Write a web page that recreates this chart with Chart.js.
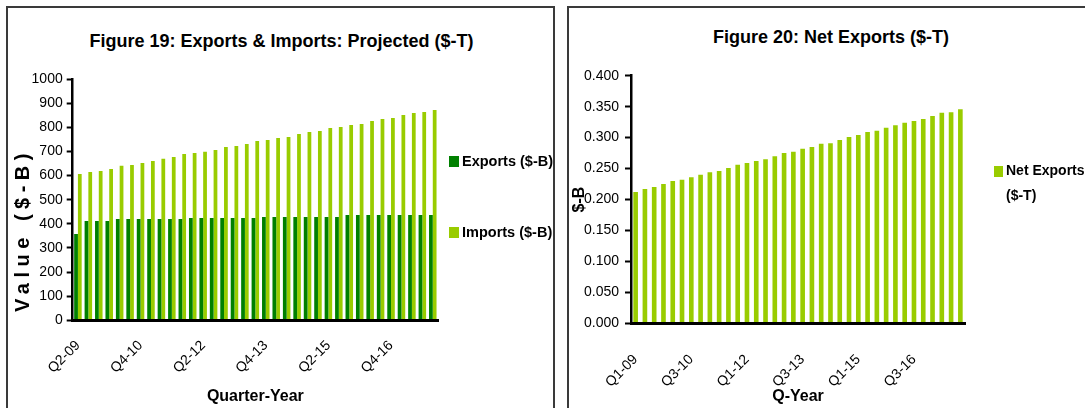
<!DOCTYPE html>
<html>
<head>
<meta charset="utf-8">
<title>Exports, Imports and Net Exports</title>
<script src="https://cdn.jsdelivr.net/npm/chart.js@4.4.1/dist/chart.umd.min.js"></script>
<style>
    html, body { margin: 0; padding: 0; background: #fff; }
    body { position: relative; width: 1085px; height: 408px; overflow: hidden; font-family: 'Liberation Sans', Arial, sans-serif; }
    .frame { position: absolute; top: 6px; height: 430px; border: 2px solid #3a3a3a; box-sizing: border-box; }
    .chartbox { position: absolute; top: 8px; }
    .fig-title { position: absolute; text-align: center; font-weight: bold; font-size: 18px; line-height: 22px; color: #000; white-space: nowrap; }
    .legend { position: absolute; font-weight: bold; color: #000; }
    .legend .item { display: flex; align-items: flex-start; }
    .legend .swatch { flex: none; }
</style>
</head>
<body>

<div class="frame" style="left:6px; width:549px;"></div>
<div class="frame" style="left:567px; width:540px;"></div>

<div class="fig-title" style="left:8px; width:547px; top:30px;">Figure 19: Exports &amp; Imports: Projected ($-T)</div>
<div class="fig-title" style="left:569px; width:524px; top:26px;">Figure 20: Net Exports ($-T)</div>

<div class="chartbox" style="left:8px;"><canvas id="chartTrade" width="545" height="400"></canvas></div>
<div class="chartbox" style="left:569px;"><canvas id="chartNet" width="524" height="400"></canvas></div>

<div id="legendTrade" class="legend" style="left:449px; top:150px; font-size:14.5px; line-height:22px;"></div>
<div id="legendNet" class="legend" style="left:994px; top:158px; font-size:14px; line-height:25px; width:100px;"></div>

<script>
// ---- Figure 19 data: exports & imports by quarter ($-B) ----
const tradeQuarters = [
    'Q2-09', 'Q3-09', 'Q4-09',
    'Q1-10', 'Q2-10', 'Q3-10', 'Q4-10',
    'Q1-11', 'Q2-11', 'Q3-11', 'Q4-11',
    'Q1-12', 'Q2-12', 'Q3-12', 'Q4-12',
    'Q1-13', 'Q2-13', 'Q3-13', 'Q4-13',
    'Q1-14', 'Q2-14', 'Q3-14', 'Q4-14',
    'Q1-15', 'Q2-15', 'Q3-15', 'Q4-15',
    'Q1-16', 'Q2-16', 'Q3-16', 'Q4-16',
    'Q1-17', 'Q2-17', 'Q3-17', 'Q4-17'
];
const exportsB = [
    358, 412, 412, 412, 420, 420, 420, 420, 420, 420, 420, 424,
    424, 424, 424, 424, 424, 424, 428, 428, 428, 428, 428, 428,
    428, 428, 436, 436, 436, 436, 436, 436, 436, 436, 436
];
const importsB = [
    606, 615, 619, 627, 640, 644, 652, 660, 669, 677, 689, 693,
    698, 706, 718, 722, 731, 743, 747, 756, 760, 772, 780, 785,
    797, 801, 809, 814, 826, 834, 838, 851, 859, 863, 872
];
const tradeTickLabels = ['Q2-09', 'Q4-10', 'Q2-12', 'Q4-13', 'Q2-15', 'Q4-16'];

// ---- Figure 20 data: net exports by quarter ($-T) ----
const netQuarters = [
    'Q1-09', 'Q2-09', 'Q3-09', 'Q4-09',
    'Q1-10', 'Q2-10', 'Q3-10', 'Q4-10',
    'Q1-11', 'Q2-11', 'Q3-11', 'Q4-11',
    'Q1-12', 'Q2-12', 'Q3-12', 'Q4-12',
    'Q1-13', 'Q2-13', 'Q3-13', 'Q4-13',
    'Q1-14', 'Q2-14', 'Q3-14', 'Q4-14',
    'Q1-15', 'Q2-15', 'Q3-15', 'Q4-15',
    'Q1-16', 'Q2-16', 'Q3-16', 'Q4-16',
    'Q1-17', 'Q2-17', 'Q3-17', 'Q4-17'
];
const netExportsT = [
    0.212, 0.217, 0.220, 0.225, 0.230, 0.232, 0.236, 0.240, 0.244,
    0.246, 0.251, 0.256, 0.259, 0.262, 0.265, 0.270, 0.275, 0.277,
    0.282, 0.285, 0.290, 0.291, 0.296, 0.301, 0.304, 0.309, 0.311,
    0.316, 0.320, 0.324, 0.327, 0.330, 0.335, 0.340, 0.341, 0.346
];
const netTickLabels = ['Q1-09', 'Q3-10', 'Q1-12', 'Q3-13', 'Q1-15', 'Q3-16'];

const DARK_GREEN = '#008000';
const LIME = '#99CC00';
const FONT = "'Liberation Sans', Arial, sans-serif";

Chart.defaults.font.family = FONT;
Chart.defaults.color = '#000';
Chart.defaults.animation = false;

// rotated, letter-spaced axis caption (Excel style)
const sideTitle = {
    id: 'sideTitle',
    afterDraw(chart, args, opts) {
        if (!opts || !opts.text) return;
        const ctx = chart.ctx;
        ctx.save();
        ctx.translate(opts.x, opts.y);
        ctx.rotate(-Math.PI / 2);
        ctx.font = `bold ${opts.size}px ${FONT}`;
        if ('letterSpacing' in ctx) ctx.letterSpacing = opts.spacing + 'px';
        ctx.fillStyle = '#000';
        ctx.textAlign = 'center';
        ctx.textBaseline = 'middle';
        ctx.fillText(opts.text, 0, 0);
        ctx.restore();
    }
};

function xAxis(showLabels, height, pad, titleText) {
    return {
        grid: { display: false },
        border: { display: true, color: '#000', width: 3, z: 1 },
        ticks: {
            autoSkip: false,
            minRotation: 45,
            maxRotation: 45,
            padding: pad,
            font: { size: 14 },
            callback: function (val) {
                const lbl = this.getLabelForValue(val);
                return showLabels.includes(lbl) ? lbl : '';
            }
        },
        title: { display: true, text: titleText, font: { size: 16, weight: 'bold' }, padding: { top: 0, bottom: 1.4 } },
        afterFit: (scale) => { scale.height = height; }
    };
}

// ---- Figure 19 ----
const tradeChart = new Chart(document.getElementById('chartTrade'), {
    type: 'bar',
    data: {
        labels: tradeQuarters,
        datasets: [
            { label: 'Exports ($-B)', data: exportsB, backgroundColor: DARK_GREEN, categoryPercentage: 0.72, barPercentage: 1 },
            { label: 'Imports ($-B)', data: importsB, backgroundColor: LIME, categoryPercentage: 0.72, barPercentage: 1 }
        ]
    },
    options: {
        responsive: false,
        layout: { padding: { left: 0, right: 115, top: 71, bottom: 0 } },
        plugins: {
            legend: { display: false },
            tooltip: { enabled: false },
            sideTitle: { text: 'Value ($-B)', x: 15.5, y: 222, size: 20, spacing: 5.5 }
        },
        scales: {
            x: xAxis(tradeTickLabels, 87.7, 9, 'Quarter-Year'),
            y: {
                min: 0,
                max: 1000,
                ticks: { stepSize: 100, padding: 4, font: { size: 14 }, callback: (v) => String(v) },
                grid: { drawOnChartArea: false, drawTicks: true, tickLength: 6, tickWidth: 2, tickColor: '#000' },
                border: { display: true, color: '#000', width: 2.5, z: 1 },
                afterFit: (scale) => { scale.width = 64.7; }
            }
        }
    },
    plugins: [sideTitle]
});

// ---- Figure 20 ----
const netChart = new Chart(document.getElementById('chartNet'), {
    type: 'bar',
    data: {
        labels: netQuarters,
        datasets: [
            { label: 'Net Exports ($-T)', data: netExportsT, backgroundColor: LIME, categoryPercentage: 1, barPercentage: 0.5 }
        ]
    },
    options: {
        responsive: false,
        layout: { padding: { left: 0, right: 128, top: 67.7, bottom: 0 } },
        plugins: {
            legend: { display: false },
            tooltip: { enabled: false }
        },
        scales: {
            x: xAxis(netTickLabels, 84.7, 20, 'Q-Year'),
            y: {
                min: 0,
                max: 0.4,
                ticks: { stepSize: 0.05, padding: 6, font: { size: 14 }, callback: (v) => v.toFixed(3) },
                grid: { drawOnChartArea: false, drawTicks: true, tickLength: 6, tickWidth: 2, tickColor: '#000' },
                border: { display: true, color: '#000', width: 2.5, z: 1 },
                title: { display: true, text: '$-B', font: { size: 16, weight: 'bold' }, padding: { top: 1, bottom: 0 } },
                afterFit: (scale) => { scale.width = 62; }
            }
        }
    }
});

// ---- HTML legends built from the datasets ----
function buildLegend(chart, elId, swW, swH, swTop, gap) {
    const el = document.getElementById(elId);
    chart.data.datasets.forEach((ds, i) => {
        const item = document.createElement('div');
        item.className = 'item';
        if (i > 0) item.style.marginTop = gap + 'px';
        const sw = document.createElement('span');
        sw.className = 'swatch';
        sw.style.cssText = `width:${swW}px;height:${swH}px;background:${ds.backgroundColor};margin-top:${swTop}px;margin-right:3px;`;
        const txt = document.createElement('span');
        txt.textContent = ds.label;
        item.appendChild(sw);
        item.appendChild(txt);
        el.appendChild(item);
    });
}
buildLegend(tradeChart, 'legendTrade', 10, 11, 6, 49);
buildLegend(netChart, 'legendNet', 9, 11, 8, 0);
</script>
</body>
</html>
